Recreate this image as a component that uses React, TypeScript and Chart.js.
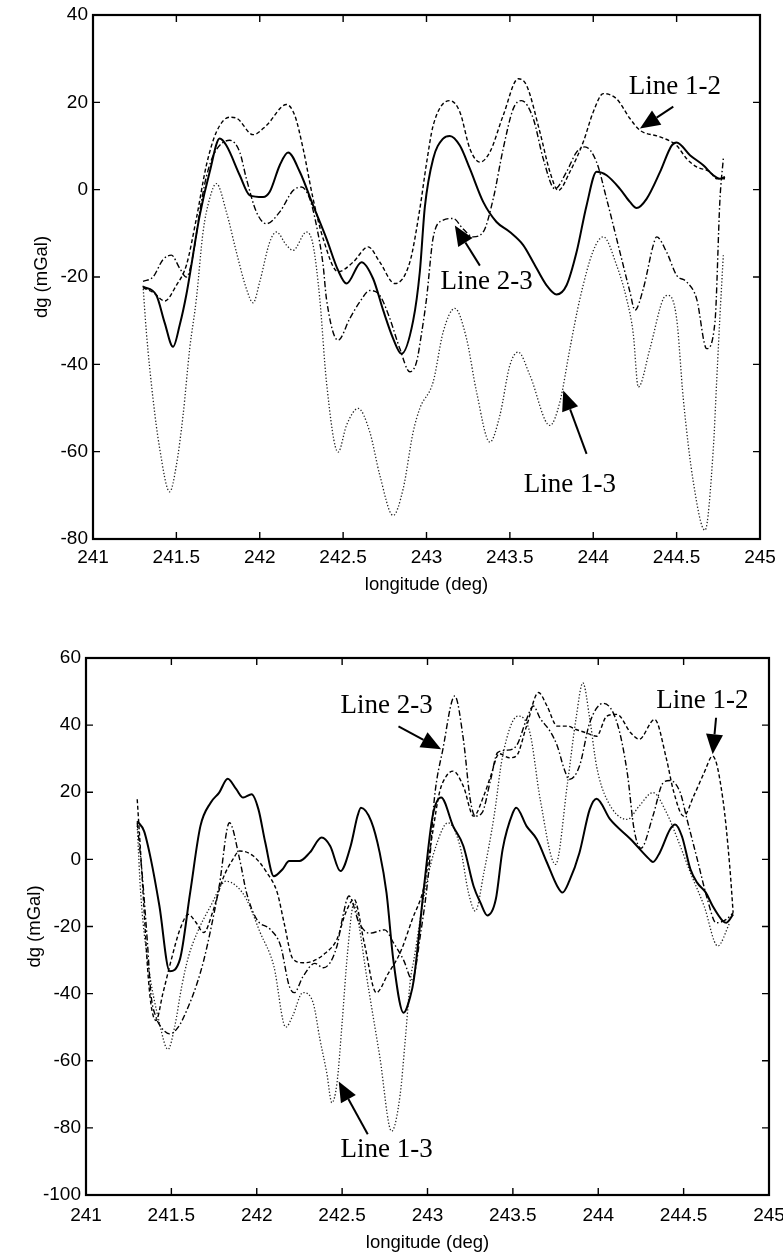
import React, { useEffect, useRef } from "react";
import { Chart, registerables } from "chart.js";

Chart.register(...registerables);

// ---------- shared axis ticks ----------
const xTickValues = [241, 241.5, 242, 242.5, 243, 243.5, 244, 244.5, 245];
const topYTickValues = [-80, -60, -40, -20, 0, 20, 40];
const bottomYTickValues = [-100, -80, -60, -40, -20, 0, 20, 40, 60];

// ---------- TOP PANEL ----------
const topSolidLon = [241.30, 241.38, 241.43, 241.48, 241.52, 241.56, 241.64, 241.70, 241.76, 241.80, 241.88, 241.94, 242.02, 242.06, 242.12, 242.17, 242.24, 242.32, 242.40, 242.47, 242.52, 242.61, 242.68, 242.74, 242.80, 242.85, 242.92, 242.96, 242.99, 243.04, 243.10, 243.14, 243.20, 243.26, 243.34, 243.42, 243.50, 243.58, 243.64, 243.72, 243.78, 243.84, 243.90, 243.96, 244.02, 244.08, 244.16, 244.22, 244.26, 244.32, 244.40, 244.47, 244.50, 244.58, 244.66, 244.72, 244.76, 244.79];
const topSolidVal = [-22.2, -24.2, -30.5, -36, -31, -24, -5.9, 4.1, 11.7, 10.1, 3.3, -1.3, -1.7, -0.5, 5.6, 8.5, 4.1, -3.6, -11.2, -18.5, -21.5, -16.6, -20.4, -27.6, -34.1, -37.6, -30, -18.8, -4, 7.1, 11.7, 12.3, 10.1, 4.8, -2.8, -7.4, -9.7, -12.7, -16.6, -21.9, -24, -21.9, -14.3, -3.6, 4.1, 3.3, 0.2, -2.8, -4.2, -2.1, 4.0, 10.1, 10.8, 7.9, 5.6, 3.3, 2.5, 2.9];

const top12Lon = [241.30, 241.36, 241.43, 241.50, 241.56, 241.62, 241.68, 241.74, 241.82, 241.86, 241.96, 242.04, 242.16, 242.21, 242.26, 242.32, 242.38, 242.47, 242.56, 242.65, 242.72, 242.81, 242.90, 242.96, 243.00, 243.04, 243.14, 243.20, 243.26, 243.32, 243.38, 243.46, 243.55, 243.60, 243.68, 243.74, 243.79, 243.86, 243.94, 244.00, 244.06, 244.14, 244.22, 244.28, 244.40, 244.50, 244.56, 244.62, 244.70, 244.74, 244.79];
const top12Val = [-22.5, -23.5, -25.5, -21.9, -17.3, -6.6, 5.6, 13.2, 16.6, 16.4, 12.6, 14.7, 19.5, 17.0, 9.4, -2.1, -11.2, -18.8, -16.6, -13.1, -16.6, -21.5, -16.6, -4.4, 6, 14.7, 20.4, 17.8, 9.4, 6.3, 8.6, 17.0, 25.4, 23.9, 13.2, 4.1, -0.2, 4.1, 10.9, 17.8, 22.0, 20.8, 16.3, 13.6, 12.1, 10.1, 7.1, 5.2, 4.1, 2.5, 2.5];

const top23Lon = [241.30, 241.36, 241.42, 241.47, 241.52, 241.56, 241.60, 241.64, 241.68, 241.73, 241.82, 241.88, 241.92, 241.98, 242.04, 242.12, 242.20, 242.25, 242.30, 242.34, 242.38, 242.40, 242.47, 242.54, 242.60, 242.66, 242.72, 242.78, 242.84, 242.90, 242.94, 242.97, 243.00, 243.04, 243.10, 243.16, 243.22, 243.28, 243.34, 243.40, 243.46, 243.52, 243.57, 243.64, 243.70, 243.77, 243.84, 243.90, 243.95, 244.02, 244.08, 244.16, 244.22, 244.25, 244.30, 244.36, 244.38, 244.44, 244.50, 244.56, 244.62, 244.68, 244.73, 244.76, 244.78];
const top23Val = [-21, -20, -16, -15, -18, -20, -15, -5, 3, 8.5, 11.3, 8.6, 2.5, -5.1, -7.8, -5.1, -0.2, 0.6, -2.1, -8.2, -17.3, -25, -34.5, -29.5, -25.7, -23.1, -24.2, -29.5, -36.4, -41.7, -39.5, -33, -25, -11, -7, -6.6, -9, -10.8, -9.7, -2.1, 9.4, 18.5, 20.4, 16.3, 7.1, 0.2, 4.1, 8.6, 9.8, 6.3, -2.1, -14.3, -23.4, -27.6, -22.7, -12.7, -10.8, -14.3, -19.6, -21.1, -25, -36.4, -30.3, -2.1, 7.1];

const top13Lon = [241.30, 241.32, 241.36, 241.40, 241.46, 241.50, 241.54, 241.58, 241.62, 241.66, 241.70, 241.74, 241.80, 241.86, 241.92, 241.96, 242.00, 242.06, 242.10, 242.16, 242.20, 242.28, 242.32, 242.36, 242.40, 242.47, 242.52, 242.59, 242.66, 242.72, 242.80, 242.86, 242.92, 242.96, 243.04, 243.10, 243.17, 243.24, 243.30, 243.38, 243.44, 243.50, 243.55, 243.62, 243.74, 243.80, 243.86, 243.92, 244.00, 244.06, 244.14, 244.20, 244.24, 244.27, 244.34, 244.42, 244.45, 244.50, 244.54, 244.60, 244.67, 244.72, 244.74, 244.76, 244.78];
const top13Val = [-22, -32.6, -47.9, -59.3, -69.2, -63.1, -51.7, -36.4, -25, -9.7, -2, 1.4, -5.1, -14.3, -22.7, -25.9, -21.1, -12, -9.7, -12.7, -13.9, -9.7, -12.7, -25, -44, -60.1, -54, -50.1, -55.5, -65.4, -74.6, -68.5, -55.5, -50.1, -44, -32.6, -27.2, -34.1, -46.3, -57.8, -51.7, -40.2, -37.2, -42.5, -54, -48.6, -36.4, -25, -14, -10.8, -17.3, -25, -33, -45.2, -36.4, -25, -24.2, -29.5, -47.9, -66.9, -78, -59.3, -44, -28.8, -15];

// ---------- BOTTOM PANEL ----------
const botSolidLon = [241.30, 241.34, 241.38, 241.43, 241.49, 241.55, 241.61, 241.67, 241.73, 241.78, 241.83, 241.88, 241.92, 241.97, 242.01, 242.05, 242.10, 242.15, 242.19, 242.25, 242.31, 242.38, 242.43, 242.49, 242.55, 242.59, 242.61, 242.67, 242.72, 242.76, 242.80, 242.86, 242.90, 242.92, 242.98, 243.03, 243.08, 243.15, 243.21, 243.27, 243.31, 243.35, 243.40, 243.44, 243.50, 243.52, 243.58, 243.64, 243.70, 243.76, 243.79, 243.83, 243.89, 243.95, 243.99, 244.07, 244.19, 244.30, 244.32, 244.36, 244.42, 244.45, 244.49, 244.54, 244.58, 244.63, 244.67, 244.73, 244.75, 244.79];
const botSolidVal = [11.4, 8.4, 0, -13.9, -33.3, -29.8, -9.9, 9.9, 16.9, 19.9, 24.0, 20.9, 18.4, 19.4, 14.9, 5.0, -5.0, -3.0, -0.5, -0.5, 2.0, 6.5, 4.0, -3.5, 4.0, 12.9, 15.4, 11.4, 2.0, -10, -30, -45.7, -40.7, -35.8, -8.0, 12.9, 18.4, 9.9, 4.0, -8.0, -12.9, -16.7, -11.9, 3.0, 13.9, 15.4, 9.9, 6.0, -1.0, -8.0, -9.9, -6.5, 2.0, 14.9, 18.1, 11.9, 6.0, 0, -0.8, 2.0, 8.9, 10.4, 6.9, -3.0, -7.0, -9.9, -13.9, -18.4, -18.9, -16.4];

const bot12Lon = [241.30, 241.32, 241.34, 241.36, 241.38, 241.41, 241.45, 241.50, 241.55, 241.60, 241.64, 241.69, 241.74, 241.80, 241.86, 241.90, 241.98, 242.06, 242.12, 242.16, 242.21, 242.27, 242.33, 242.40, 242.47, 242.52, 242.57, 242.63, 242.70, 242.77, 242.84, 242.91, 242.98, 243.03, 243.07, 243.11, 243.15, 243.21, 243.27, 243.33, 243.37, 243.42, 243.48, 243.52, 243.58, 243.65, 243.70, 243.76, 243.82, 243.87, 243.93, 243.99, 244.05, 244.11, 244.19, 244.24, 244.33, 244.40, 244.44, 244.50, 244.56, 244.62, 244.67, 244.73, 244.77, 244.79];
const bot12Val = [17.9, 2, -15, -32, -43, -48, -40, -29.8, -20.9, -16.4, -18.5, -21.8, -16, -6, 0, 2.5, 1.0, -4.0, -9.9, -18.9, -29.5, -30.8, -30.3, -28, -23.8, -16, -11.9, -25, -39.7, -34, -27.8, -18, -8.0, 8, 19.9, 24.8, 26.3, 21.8, 12.9, 19, 24.8, 31.5, 30.3, 30.8, 39.7, 49.7, 45.7, 39.7, 39.7, 38.7, 37.7, 36.7, 42.7, 43.2, 37.7, 35.8, 41.7, 29.8, 20.5, 12.9, 19, 25.8, 30.8, 17.9, -2.0, -15.9];

const bot23Lon = [241.30, 241.33, 241.36, 241.38, 241.41, 241.44, 241.49, 241.54, 241.59, 241.65, 241.69, 241.73, 241.78, 241.84, 241.90, 241.94, 242.00, 242.08, 242.14, 242.19, 242.22, 242.27, 242.34, 242.39, 242.47, 242.50, 242.54, 242.60, 242.66, 242.75, 242.80, 242.86, 242.91, 242.96, 243.01, 243.04, 243.09, 243.16, 243.21, 243.25, 243.28, 243.32, 243.37, 243.41, 243.46, 243.52, 243.58, 243.62, 243.66, 243.72, 243.76, 243.80, 243.83, 243.89, 243.95, 244.03, 244.11, 244.17, 244.21, 244.25, 244.32, 244.38, 244.42, 244.48, 244.52, 244.58, 244.64, 244.69, 244.75, 244.79];
const bot23Val = [11, -5, -25, -40, -47, -50, -52, -50, -45, -37, -30, -21, -8, 10.9, 0, -9.9, -17.9, -20.9, -25.8, -37.7, -39.7, -35, -31, -32.3, -25.8, -18, -10.9, -19, -22, -21, -24.8, -30, -35.8, -22, -2, 18, 32.8, 48.7, 35.8, 17.9, 12.9, 13.9, 23.8, 31.8, 32.5, 33.8, 41.7, 45.7, 42, 38, 33.8, 27, 23.8, 27.8, 40.7, 46.5, 40.7, 25.8, 8.9, 3.3, 12.9, 22.8, 23.5, 19.9, 11.9, 0, -12, -18.9, -17.9, -15.9];

const bot13Lon = [241.30, 241.32, 241.36, 241.43, 241.48, 241.52, 241.56, 241.60, 241.65, 241.73, 241.82, 241.88, 241.94, 242.02, 242.10, 242.17, 242.21, 242.27, 242.33, 242.37, 242.41, 242.44, 242.47, 242.50, 242.53, 242.57, 242.60, 242.64, 242.72, 242.79, 242.84, 242.87, 242.90, 242.92, 242.99, 243.05, 243.12, 243.19, 243.24, 243.28, 243.33, 243.39, 243.44, 243.53, 243.60, 243.66, 243.75, 243.82, 243.87, 243.91, 243.95, 243.99, 244.05, 244.17, 244.24, 244.32, 244.40, 244.48, 244.54, 244.62, 244.70, 244.77];
const bot13Val = [10, -9.9, -29.8, -48.7, -56.6, -49.7, -38, -29, -22, -13.9, -6.5, -7.9, -11.9, -21.8, -31.8, -50, -46.7, -39.7, -42.7, -53.6, -63.6, -72.5, -66.6, -48.7, -28.8, -13, -20, -33.8, -58.6, -81, -70, -53.6, -35.8, -30, -8, 4.0, 10.9, 4.0, -9.9, -15.4, -4.0, 12.9, 30.8, 42.7, 37.7, 17.9, -1.5, 22.8, 42, 52.6, 42, 27.8, 17.9, 11.9, 15.9, 19.9, 13.9, 4.0, -4.0, -13.9, -25.8, -18.9];

// ---------- annotations (placed in data units) ----------
const topNotes = [
  { text: "Line 1-2", tLon: 244.49, tVal: 23.6, aLon: 244.48, aVal: 19.0, bLon: 244.28, bVal: 14.0 },
  { text: "Line 2-3", tLon: 243.36, tVal: -21.1, aLon: 243.32, aVal: -17.4, bLon: 243.17, bVal: -8.2 },
  { text: "Line 1-3", tLon: 243.86, tVal: -67.6, aLon: 243.96, aVal: -60.5, bLon: 243.82, bVal: -46.0 },
];
const bottomNotes = [
  { text: "Line 2-3", tLon: 242.76, tVal: 45.6, aLon: 242.83, aVal: 39.6, bLon: 243.08, bVal: 32.8 },
  { text: "Line 1-2", tLon: 244.61, tVal: 47.3, aLon: 244.69, aVal: 42.2, bLon: 244.67, bVal: 31.3 },
  { text: "Line 1-3", tLon: 242.76, tVal: -86.7, aLon: 242.65, aVal: -81.9, bLon: 242.48, bVal: -66.2 },
];

const pts = (lon: number[], val: number[]) => lon.map((x, i) => ({ x, y: val[i] }));

const framePlugin = {
  id: "frame",
  afterDatasetsDraw(chart: any, _args: any, opts: any) {
    const { ctx, chartArea: a, scales } = chart;
    const xs = scales.x;
    const ys = scales.y;
    ctx.save();
    ctx.strokeStyle = "#000";
    ctx.fillStyle = "#000";
    ctx.lineWidth = 1.4;
    ctx.beginPath();
    xs.ticks.forEach((t: any) => {
      const p = xs.getPixelForValue(t.value);
      ctx.moveTo(p, a.bottom);
      ctx.lineTo(p, a.bottom - 7);
      ctx.moveTo(p, a.top);
      ctx.lineTo(p, a.top + 7);
    });
    ys.ticks.forEach((t: any) => {
      const p = ys.getPixelForValue(t.value);
      ctx.moveTo(a.left, p);
      ctx.lineTo(a.left + 7, p);
      ctx.moveTo(a.right, p);
      ctx.lineTo(a.right - 7, p);
    });
    ctx.stroke();
    ctx.lineWidth = 2.2;
    ctx.strokeRect(a.left, a.top, a.right - a.left, a.bottom - a.top);

    // axis titles
    ctx.font = "18.5px 'Liberation Sans', Arial, sans-serif";
    ctx.textAlign = "center";
    ctx.textBaseline = "middle";
    ctx.fillText(opts.xTitle, (a.left + a.right) / 2, a.bottom + opts.xTitleGap);
    ctx.save();
    ctx.translate(a.left - opts.yTitleGap, (a.top + a.bottom) / 2);
    ctx.rotate(-Math.PI / 2);
    ctx.fillText(opts.yTitle, 0, 0);
    ctx.restore();

    // annotations with arrows
    ctx.font = "27px 'Liberation Serif', 'Times New Roman', serif";
    const notes = opts.notes || [];
    for (let i = 0; i < notes.length; i++) {
      const n = notes[i];
      ctx.fillText(n.text, xs.getPixelForValue(n.tLon), ys.getPixelForValue(n.tVal));
      const x0 = xs.getPixelForValue(n.aLon);
      const y0 = ys.getPixelForValue(n.aVal);
      const x1 = xs.getPixelForValue(n.bLon);
      const y1 = ys.getPixelForValue(n.bVal);
      const ang = Math.atan2(y1 - y0, x1 - x0);
      const hl = 20;
      const hw = 8.5;
      const bx = x1 - hl * Math.cos(ang);
      const by = y1 - hl * Math.sin(ang);
      ctx.lineWidth = 2;
      ctx.beginPath();
      ctx.moveTo(x0, y0);
      ctx.lineTo(bx, by);
      ctx.stroke();
      ctx.beginPath();
      ctx.moveTo(x1, y1);
      ctx.lineTo(bx + hw * Math.sin(ang), by - hw * Math.cos(ang));
      ctx.lineTo(bx - hw * Math.sin(ang), by + hw * Math.cos(ang));
      ctx.closePath();
      ctx.fill();
    }
    ctx.restore();
  },
};

type PanelProps = {
  top: number;
  height: number;
  padTop: number;
  padRight: number;
  yAxisW: number;
  xAxisH: number;
  tickPad: number;
  yMin: number;
  yMax: number;
  yTicks: number[];
  series: { lon: number[]; val: number[] }[];
  notes: any[];
  xTitleGap: number;
  yTitleGap: number;
};

const styles = [
  { borderWidth: 2, borderDash: [] as number[], borderColor: "#000" },
  { borderWidth: 1.4, borderDash: [4, 2.5], borderColor: "#000" },
  { borderWidth: 1.4, borderDash: [6, 2.5, 1.5, 2.5], borderColor: "#000" },
  { borderWidth: 1.3, borderDash: [1.3, 2], borderColor: "#222" },
];
const seriesNames = ["solid", "Line 1-2", "Line 2-3", "Line 1-3"];

function Panel(p: PanelProps) {
  const ref = useRef<HTMLCanvasElement | null>(null);
  useEffect(() => {
    if (!ref.current) return;
    const tickFont = { family: "'Liberation Sans', Arial, sans-serif", size: 19 };
    const chart = new Chart(ref.current, {
      type: "line",
      data: {
        datasets: p.series.map((s, i) => ({
          label: seriesNames[i],
          data: pts(s.lon, s.val),
          ...styles[i],
          pointRadius: 0,
          fill: false,
          cubicInterpolationMode: "monotone" as const,
        })),
      },
      options: {
        responsive: false,
        animation: false,
        devicePixelRatio: 1,
        layout: { padding: { top: p.padTop, right: p.padRight, left: 0, bottom: 0 } },
        plugins: {
          legend: { display: false },
          tooltip: { enabled: false },
          frame: {
            notes: p.notes,
            xTitle: "longitude (deg)",
            yTitle: "dg (mGal)",
            xTitleGap: p.xTitleGap,
            yTitleGap: p.yTitleGap,
          },
        } as any,
        scales: {
          x: {
            type: "linear",
            min: 241,
            max: 245,
            grid: { display: false, drawTicks: false },
            border: { display: false },
            afterBuildTicks: (s: any) => {
              s.ticks = xTickValues.map((v) => ({ value: v }));
            },
            afterFit: (s: any) => {
              s.height = p.xAxisH;
              s.paddingLeft = 0;
              s.paddingRight = 0;
            },
            ticks: {
              color: "#000",
              font: tickFont,
              padding: p.tickPad,
              maxRotation: 0,
              autoSkip: false,
              callback: (v: any) => String(v),
            },
          },
          y: {
            type: "linear",
            min: p.yMin,
            max: p.yMax,
            grid: { display: false, drawTicks: false },
            border: { display: false },
            afterBuildTicks: (s: any) => {
              s.ticks = p.yTicks.map((v) => ({ value: v }));
            },
            afterFit: (s: any) => {
              s.width = p.yAxisW;
              s.paddingTop = 0;
              s.paddingBottom = 0;
            },
            ticks: {
              color: "#000",
              font: tickFont,
              padding: 5,
              callback: (v: any) => String(v),
            },
          },
        },
      },
      plugins: [framePlugin],
    } as any);
    return () => chart.destroy();
  }, []);
  return (
    <canvas
      ref={ref}
      width={783}
      height={p.height}
      style={{ position: "absolute", left: 0, top: p.top, width: 783, height: p.height, display: "block" }}
    />
  );
}

export default function App() {
  return (
    <div style={{ position: "absolute", left: 0, top: 0, width: 783, height: 1256, background: "#fff" }}>
      <Panel
        top={0}
        height={596}
        padTop={15}
        padRight={23}
        yAxisW={93}
        xAxisH={57}
        tickPad={7}
        yMin={-80}
        yMax={40}
        yTicks={topYTickValues}
        series={[
          { lon: topSolidLon, val: topSolidVal },
          { lon: top12Lon, val: top12Val },
          { lon: top23Lon, val: top23Val },
          { lon: top13Lon, val: top13Val },
        ]}
        notes={topNotes}
        xTitleGap={46}
        yTitleGap={51}
      />
      <Panel
        top={640}
        height={616}
        padTop={18}
        padRight={14}
        yAxisW={86}
        xAxisH={61}
        tickPad={9}
        yMin={-100}
        yMax={60}
        yTicks={bottomYTickValues}
        series={[
          { lon: botSolidLon, val: botSolidVal },
          { lon: bot12Lon, val: bot12Val },
          { lon: bot23Lon, val: bot23Val },
          { lon: bot13Lon, val: bot13Val },
        ]}
        notes={bottomNotes}
        xTitleGap={48}
        yTitleGap={51}
      />
    </div>
  );
}
